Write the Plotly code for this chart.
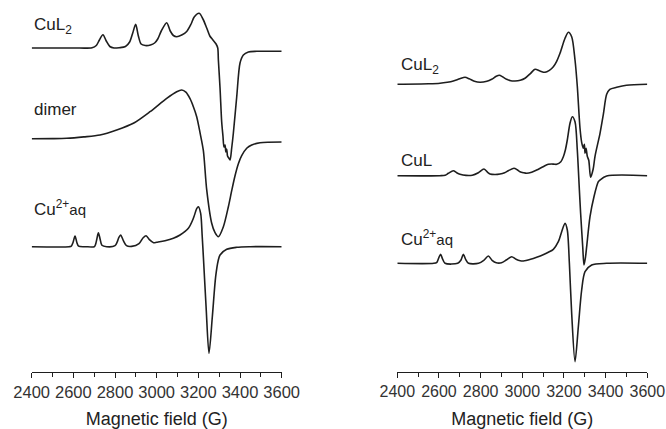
import plotly.graph_objects as go

# ---------------- data (field in G, intensity in arbitrary units) ----------------
# Left panel
L_CUL2_G = [2400, 2600, 2690, 2710, 2725, 2742, 2758, 2775, 2795, 2820, 2850, 2870, 2885, 2899, 2912, 2925,
            2945, 2970, 2990, 3005, 3022, 3048, 3065, 3080, 3096, 3120, 3144, 3165, 3180, 3204, 3222, 3240,
            3255, 3270, 3285, 3293, 3296, 3304, 3312, 3318, 3323, 3328, 3332, 3336, 3340, 3346, 3352, 3360,
            3368, 3384, 3400, 3416, 3440, 3480, 3600]
L_CUL2_I = [0, 0, 0.3, 2.5, 8, 13.3, 7, 1.5, 0, 0.3, 1.5, 6, 15, 23.7, 12, 4,
            2.5, 3, 5, 9, 17, 25.3, 17, 12.5, 11.3, 13, 16.5, 24, 31, 34.7, 29, 20,
            12, 8, 4, 0, -12, -40, -74, -88, -99, -97, -104, -101, -108, -110, -112, -100,
            -85, -49, -15, -7, -4, -3.3, -3.3]

L_DIM_G = [2400, 2500, 2568, 2650, 2728, 2808, 2888, 2968, 3048, 3096, 3120, 3140, 3160, 3176, 3192, 3208,
           3224, 3240, 3264, 3280, 3296, 3320, 3344, 3360, 3376, 3392, 3408, 3432, 3456, 3496, 3600]
L_DIM_I = [0, 0.1, 0.4, 1.8, 3.7, 8.7, 15.4, 27, 40.4, 47, 48.7, 46.5, 40, 32, 22, 6,
           -12, -51, -84.6, -94, -98, -88, -68, -52, -37, -25, -17, -9.6, -6.3, -4, -3.3]

L_AQ_G = [2400, 2580, 2590, 2598, 2608, 2617, 2625, 2660, 2700, 2706, 2713, 2720, 2728, 2737, 2760, 2800,
          2810, 2818, 2827, 2840, 2855, 2880, 2915, 2935, 2949, 2965, 2985, 3000, 3040, 3080, 3112, 3152,
          3176, 3192, 3200, 3211, 3218, 3224, 3237, 3251, 3267, 3283, 3295, 3304, 3336, 3384, 3450, 3600]
L_AQ_I = [0, 0, 0.5, 4, 10.7, 4, 0.5, 0, 0, 2, 8, 14, 8, 1.5, 0, 1,
          4.5, 9, 11.7, 6, 1, 0.3, 3, 9, 11, 7, 4, 4.5, 6, 8.5, 11.7, 18.4,
          28.4, 38, 40, 33.4, 12, -10, -60, -106.6, -70, -30, -14, -8.3, -2.6, -0.6, 0, 0]

# Right panel
R_CUL2_G = [2400, 2550, 2605, 2640, 2669, 2700, 2725, 2745, 2770, 2797, 2830, 2853, 2875, 2890, 2905, 2925,
            2945, 2965, 2990, 3013, 3040, 3061, 3085, 3109, 3130, 3149, 3165, 3181, 3205, 3221, 3237, 3253,
            3264, 3277, 3285, 3293, 3298, 3301, 3306, 3312, 3319, 3328, 3340, 3349, 3373, 3389, 3405, 3420,
            3453, 3500, 3600]
R_CUL2_I = [0, 0.5, 1, 2, 3.3, 5.5, 7, 5.5, 3, 2, 3, 5, 8, 9, 7.5, 5,
            3.5, 3.3, 4, 6, 11, 15, 13.3, 12, 14, 17.6, 23, 31, 46, 52, 47.6, 24.3,
            -2, -44, -58, -64, -60, -69, -64, -72, -76, -93, -85, -72, -49, -30, -10, -5,
            -3, -1, 0]

R_CUL_G = [2400, 2605, 2630, 2645, 2669, 2685, 2701, 2730, 2760, 2789, 2816, 2835, 2845, 2870, 2893, 2915,
           2933, 2960, 2975, 2989, 3005, 3021, 3045, 3069, 3100, 3125, 3150, 3165, 3185, 3197, 3207, 3216,
           3229, 3240, 3253, 3264, 3274, 3280, 3290, 3296, 3303, 3309, 3325, 3344, 3365, 3373, 3405, 3600]
R_CUL_I = [0, 0, 0.5, 2.4, 5, 3, 1.5, 0.3, 0.5, 3, 6.7, 3, 1.7, 1.2, 1.7, 3,
           5, 7.4, 6, 4, 3, 2.4, 3.5, 5.7, 9, 11.4, 11.6, 11.4, 14, 19, 26, 35.7,
           52.4, 59, 54, 25.7, -14.3, -37.6, -71, -89.3, -82, -71, -41, -21, -6, -4.3, -0.3, 0]

R_AQ_G = [2400, 2575, 2590, 2600, 2608, 2616, 2629, 2690, 2705, 2717, 2728, 2742, 2790, 2815, 2837, 2855,
          2875, 2900, 2925, 2949, 2970, 2990, 3005, 3040, 3069, 3100, 3125, 3149, 3173, 3189, 3205, 3216,
          3226, 3237, 3253, 3269, 3285, 3301, 3333, 3405, 3600]
R_AQ_I = [0, 0, 1, 6, 9, 5, 0, 0, 3, 9, 4, 0, 0, 3, 7.3, 3,
          0.5, 0.5, 3.5, 6.6, 4, 2.5, 2.3, 4, 6, 8.5, 11, 14, 21.6, 31.6, 40, 33.3,
          0, -50, -98.4, -63.4, -26.7, -8.4, -1.7, 0, 0]

TICKS = [2400, 2600, 2800, 3000, 3200, 3400, 3600]
XTITLE = "Magnetic field (G)"

# ---------------- layout / style ----------------
W, H = 666, 429
PLOT_BOTTOM = 372
LINE = "#1e1e1e"
TXT = "#222"
FONT = "Arial, 'Liberation Sans', Helvetica, sans-serif"

left_traces = [(L_CUL2_G, L_CUL2_I, 324), (L_DIM_G, L_DIM_I, 233.3), (L_AQ_G, L_AQ_I, 125.3)]
right_traces = [(R_CUL2_G, R_CUL2_I, 287.7), (R_CUL_G, R_CUL_I, 196.3), (R_AQ_G, R_AQ_I, 108.7)]

CU_AQ = "Cu<sup>2+</sup><span style='font-size:15px'>aq</span>"
# labels: (text, x_px, y_px, size)
LABELS = [("CuL<sub>2</sub>", 32, 26, 17), ("dimer", 32, 110, 17), (CU_AQ, 32, 208, 17),
          ("CuL<sub>2</sub>", 398.5, 66, 17), ("CuL", 398.5, 160.5, 17), (CU_AQ, 398.5, 238, 17)]

fig = go.Figure()
for axis_suffix, traces in (("", left_traces), ("2", right_traces)):
    for xs, ys, off in traces:
        fig.add_trace(go.Scatter(
            x=xs, y=[off + v for v in ys], mode="lines",
            line=dict(color=LINE, width=1.6, shape="spline", smoothing=0.8),
            xaxis="x" + axis_suffix, yaxis="y" + axis_suffix, showlegend=False,
            hoverinfo="skip"))

annotations = [dict(text=t, xref="paper", yref="paper", x=px / W, y=1 - py / PLOT_BOTTOM,
                    xanchor="left", yanchor="middle", showarrow=False,
                    font=dict(size=s, color=TXT, family=FONT)) for t, px, py, s in LABELS]

def xaxis_style(tick_size):
    return dict(range=[2400, 3600], tickvals=TICKS, ticktext=[str(t) for t in TICKS],
                showline=True, linecolor=LINE, linewidth=1.3, ticks="outside", ticklen=5,
                tickwidth=1.3, tickcolor=LINE, showgrid=False, zeroline=False, automargin=False,
                minor=dict(ticks="outside", ticklen=4, tickwidth=1.3, tickcolor=LINE, dtick=100,
                           showgrid=False),
                tickfont=dict(size=tick_size, color="#333", family=FONT),
                title=dict(text=XTITLE, font=dict(size=18, color=TXT, family=FONT), standoff=13),
                fixedrange=True)

yax = dict(range=[0, PLOT_BOTTOM], visible=False, showgrid=False, zeroline=False,
           fixedrange=True, automargin=False)

fig.update_layout(
    width=W, height=H,
    margin=dict(l=0, r=0, t=0, b=H - PLOT_BOTTOM, pad=0, autoexpand=False),
    paper_bgcolor="white", plot_bgcolor="white",
    xaxis=dict(xaxis_style(16.5), domain=[31.7 / W, 281.7 / W], anchor="y"),
    xaxis2=dict(xaxis_style(16), domain=[397.3 / W, 647.3 / W], anchor="y2"),
    yaxis=dict(yax, anchor="x"),
    yaxis2=dict(yax, anchor="x2"),
    annotations=annotations,
)
fig.write_html("out.html")
